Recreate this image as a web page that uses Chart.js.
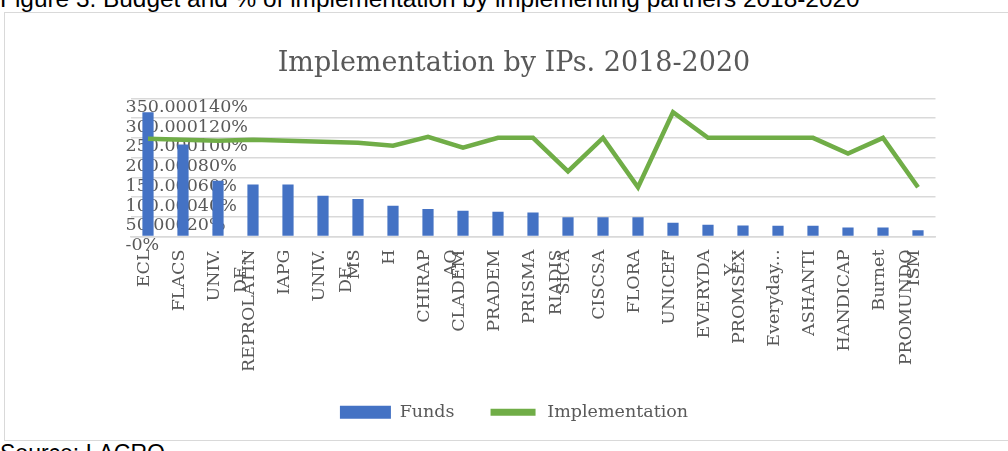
<!DOCTYPE html>
<html>
<head>
<meta charset="utf-8">
<script src="https://cdn.jsdelivr.net/npm/chart.js@4.4.1/dist/chart.umd.min.js"></script>
<style>
  html, body { margin: 0; padding: 0; width: 1008px; height: 451px; overflow: hidden; background: #fff; }
  .doc-text { position: absolute; left: 0; margin: 0; font-family: "Liberation Sans", Arial, sans-serif; color: #000; white-space: nowrap; line-height: 1; }
  #caption { top: -13px; font-size: 24.4px; }
  #source { top: 442px; font-size: 23px; }
  #frame { position: absolute; left: 4px; top: 12px; width: 1040px; height: 429px; border: 1px solid #d9d9d9; box-sizing: border-box; overflow: hidden; background: #fff; }
  #wrap { position: absolute; left: 0; top: 0; width: 1018px; height: 427px; }
</style>
</head>
<body>
<p id="caption" class="doc-text">Figure 3. Budget and % of implementation by implementing partners 2018-2020</p>
<div id="frame"><div id="wrap"><canvas id="chart"></canvas></div></div>
<p id="source" class="doc-text">Source: LACRO</p>
<script>
// Implementing partners (axis labels, some wrapped over two lines)
const partners = [
  'ECL', 'FLACS', ['UNIV.', 'DE...'], 'REPROLATIN', 'IAPG', ['UNIV.', 'DE...'],
  'MS', 'H', ['CHIRAP', 'AQ'], 'CLADEM', 'PRADEM', ['PRISMA', 'RIADIS'], 'SICA',
  'CISCSA', ['FLORA', '...'], 'UNICEF', ['EVERYDA', 'Y...'], 'PROMSEX', 'Everyday...',
  'ASHANTI', 'HANDICAP', ['Burnet', 'PROMUNDO'], 'ISM'
];

// Funds per partner
const funds = [
  315000, 233000, 141000, 132000, 132000, 103000, 95000, 78000, 70000, 65000, 63000, 61000,
  49000, 49000, 49000, 35000, 30000, 28000, 27000, 27000, 23000, 23000, 16000
];

// Implementation rate per partner (%)
const implementation = [
  99, 98, 97, 98, 97, 96, 95, 92, 101, 90, 100, 100,
  66, 100, 50, 126, 100, 100, 100, 100, 84, 100, 50
];

// Tick labels of the two value axes (funds and percentage share the same gridlines)
const fundTickLabels = ['-', '50.000', '100.000', '150.000', '200.000', '250.000', '300.000', '350.000'];
const pctTickLabels = ['0%', '20%', '40%', '60%', '80%', '100%', '120%', '140%'];

const BLUE = '#4472c4';
const GREEN = '#70ad47';
const TEXT = '#595959';
const GRID = '#d9d9d9';
const SERIF = '"DejaVu Serif", "Liberation Serif", serif';

new Chart(document.getElementById('chart'), {
  data: {
    labels: partners,
    datasets: [
      {
        type: 'bar',
        label: 'Funds',
        data: funds,
        backgroundColor: BLUE,
        yAxisID: 'y',
        barPercentage: 0.32,
        categoryPercentage: 1,
        order: 2
      },
      {
        type: 'line',
        label: 'Implementation',
        data: implementation,
        borderColor: GREEN,
        backgroundColor: GREEN,
        borderWidth: 4.5,
        pointRadius: 0,
        tension: 0,
        yAxisID: 'y1',
        order: 1
      }
    ]
  },
  options: {
    responsive: true,
    maintainAspectRatio: false,
    animation: false,
    layout: { padding: { left: 0, right: 0, top: 0, bottom: 9 } },
    plugins: {
      title: {
        display: true,
        text: 'Implementation by IPs. 2018-2020',
        color: TEXT,
        font: { family: SERIF, size: 27, weight: 'normal' },
        padding: { top: 35, bottom: 18 }
      },
      legend: {
        position: 'bottom',
        labels: {
          color: TEXT,
          font: { family: SERIF, size: 17.5 },
          boxWidth: 51,
          boxHeight: 13,
          padding: 33,
          sort: (a, b) => a.datasetIndex - b.datasetIndex,
          generateLabels(chart) {
            const items = Chart.defaults.plugins.legend.labels.generateLabels(chart);
            items.forEach(item => {
              if (item.datasetIndex === 1) {
                item.fillStyle = GREEN;
                item.strokeStyle = '#ffffff';
                item.lineWidth = 6;
              } else {
                item.fillStyle = BLUE;
                item.lineWidth = 0;
              }
            });
            return items;
          }
        }
      },
      tooltip: { enabled: false }
    },
    scales: {
      x: {
        type: 'category',
        grid: { display: false },
        border: { color: GRID, width: 1.5 },
        ticks: {
          color: TEXT,
          font: { family: SERIF, size: 17.5, lineHeight: 1.55 },
          autoSkip: false,
          minRotation: 90,
          maxRotation: 90,
          padding: 5,
          labelOffset: -4
        },
        afterFit(scale) { scale.height = 134; }
      },
      y: {
        position: 'left',
        min: 0,
        max: 350000,
        grid: { color: GRID, lineWidth: 1.5, drawTicks: false },
        border: { display: false },
        ticks: {
          stepSize: 50000,
          autoSkip: false,
          mirror: true,
          padding: -5,
          labelOffset: 9,
          color: TEXT,
          font: { family: SERIF, size: 17.5 },
          callback: (value, index) => fundTickLabels[index] + pctTickLabels[index]
        },
        afterFit(scale) { scale.width = 125.5; }
      },
      y1: {
        position: 'right',
        min: 0,
        max: 140,
        grid: { display: false },
        border: { display: false },
        ticks: { display: false, stepSize: 20 },
        afterFit(scale) { scale.width = 87.5; }
      }
    }
  }
});
</script>
</body>
</html>
